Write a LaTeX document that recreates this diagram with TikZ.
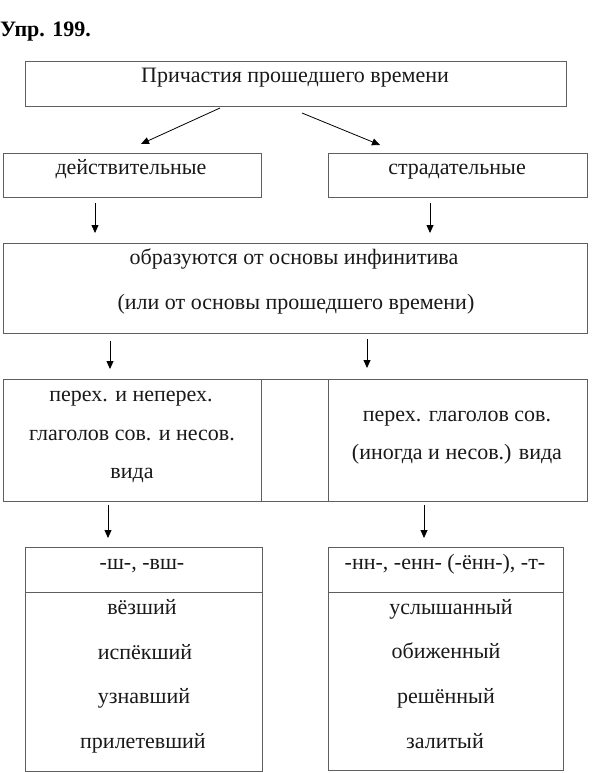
\documentclass[tikz,border=0pt]{standalone}
\usepackage{fontspec}
\setmainfont{Liberation Serif}
\usetikzlibrary{arrows.meta}
\definecolor{boxgray}{RGB}{95,95,95}
\definecolor{txt}{RGB}{25,25,25}
\begin{document}
\begin{tikzpicture}[x=1pt,y=-1pt,
  box/.style={draw=boxgray, line width=1pt, inner sep=0pt, outer sep=0pt, anchor=north west},
  lbl/.style={font=\fontsize{22}{26}\selectfont, text=txt, inner sep=0pt, anchor=base},
  arr/.style={-{Triangle[length=8pt,width=7pt]}, line width=0.8pt, black},
  sep/.style={draw=boxgray, line width=1pt}]
\useasboundingbox (0,0) rectangle (592,773);

% title
\node[font=\bfseries\fontsize{22}{26}\selectfont, inner sep=0pt, anchor=base west] (title) at (0,37) {Упр. 199.};

% boxes
\node[box, minimum width=541pt, minimum height=45pt] (b1) at (25,62) {};
\node[box, minimum width=258pt, minimum height=44pt] (b2) at (3,153) {};
\node[box, minimum width=259pt, minimum height=44pt] (b3) at (328,153) {};
\node[box, minimum width=584pt, minimum height=90pt] (b4) at (3,243) {};
\node[box, minimum width=584pt, minimum height=122pt] (b5) at (3,379) {};
\node[box, minimum width=237pt, minimum height=224pt] (b6) at (25,547) {};
\node[box, minimum width=235pt, minimum height=223pt] (b7) at (328,547) {};

% inner separators
\coordinate (s1t) at (261,379); \coordinate (s1b) at (261,501);
\coordinate (s2t) at (328,379); \coordinate (s2b) at (328,501);
\draw[sep] (s1t) -- (s1b);
\draw[sep] (s2t) -- (s2b);
\coordinate (h1l) at (25,592); \coordinate (h1r) at (262,592);
\coordinate (h2l) at (328,592); \coordinate (h2r) at (563,592);
\draw[sep] (h1l) -- (h1r);
\draw[sep] (h2l) -- (h2r);

% texts
\node[lbl] (t1) at (295,83) {Причастия прошедшего времени};
\node[lbl] (t2) at (131,174) {действительные};
\node[lbl] (t3) at (457,174) {страдательные};
\node[lbl] (t4) at (294,264) {образуются от основы инфинитива};
\node[lbl] (t5) at (296,309) {(или от основы прошедшего времени)};
\node[lbl] (t6) at (131,401) {перех. и неперех.};
\node[lbl] (t7) at (132,440) {глаголов сов. и несов.};
\node[lbl] (t8) at (132,478) {вида};
\node[lbl] (t9) at (457,421) {перех. глаголов сов.};
\node[lbl] (t10) at (457,459) {(иногда и несов.) вида};
\node[lbl] (t11) at (142,569) {-ш-, -вш-};
\node[lbl] (t12) at (142,614) {вёзший};
\node[lbl] (t13) at (145,659) {испёкший};
\node[lbl] (t14) at (144,703) {узнавший};
\node[lbl] (t15) at (143,748) {прилетевший};
\node[lbl] (t16) at (445,569) {-нн-, -енн- (-ённ-), -т-};
\node[lbl] (t17) at (451,614) {услышанный};
\node[lbl] (t18) at (446,658) {обиженный};
\node[lbl] (t19) at (446,703) {решённый};
\node[lbl] (t20) at (445,748) {залитый};

% arrows
\coordinate (a1s) at (220,108); \coordinate (a1e) at (141,144);
\coordinate (a2s) at (302,113); \coordinate (a2e) at (380,145);
\coordinate (a3s) at (95,203);  \coordinate (a3e) at (95,233);
\coordinate (a4s) at (430,203); \coordinate (a4e) at (430,233);
\coordinate (a5s) at (110,341); \coordinate (a5e) at (110,369);
\coordinate (a6s) at (367,339); \coordinate (a6e) at (367,368);
\coordinate (a7s) at (108,505); \coordinate (a7e) at (108,538);
\coordinate (a8s) at (424,505); \coordinate (a8e) at (424,538);
\draw[arr] (a1s) -- (a1e);
\draw[arr] (a2s) -- (a2e);
\draw[arr] (a3s) -- (a3e);
\draw[arr] (a4s) -- (a4e);
\draw[arr] (a5s) -- (a5e);
\draw[arr] (a6s) -- (a6e);
\draw[arr] (a7s) -- (a7e);
\draw[arr] (a8s) -- (a8e);
\end{tikzpicture}
\end{document}
